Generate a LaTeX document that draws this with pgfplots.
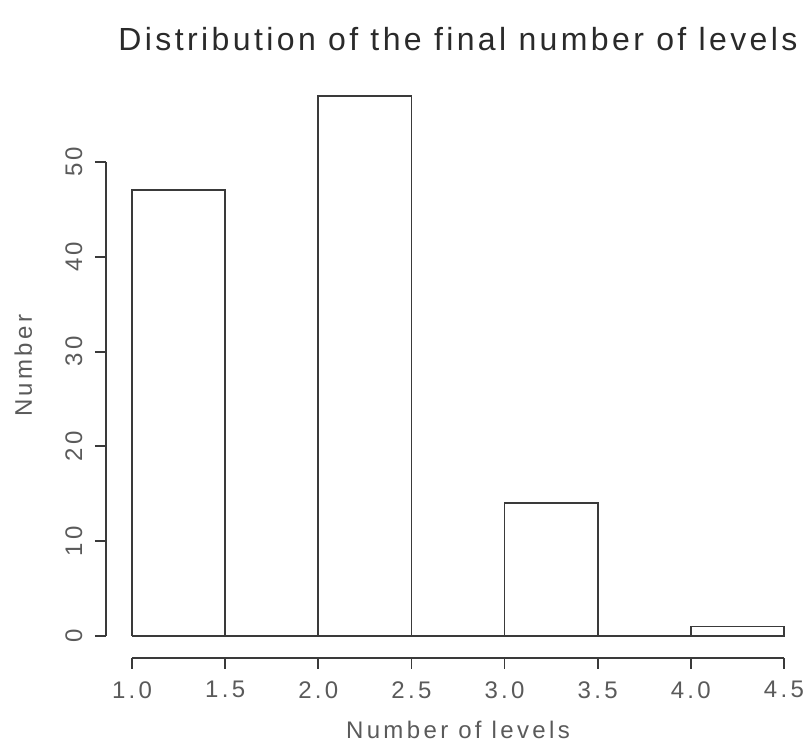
\documentclass[border=0pt]{standalone}
\usepackage{pgfplots}
\pgfplotsset{compat=1.18}
\usepackage{fontspec}
\setmainfont{Liberation Sans}[LetterSpace=14]
\newfontfamily\titlefont{Liberation Sans}[LetterSpace=10.6]
\definecolor{axc}{HTML}{3A3A3A}
\definecolor{txc}{HTML}{5A5A5A}
\definecolor{ttc}{HTML}{2A2A2A}
\begin{document}
\begin{tikzpicture}
\path[use as bounding box] (0,0) rectangle (606pt,561.75pt);
\begin{axis}[
  at={(79.5pt,68.55pt)}, anchor=south west,
  width=528pt, height=437.7pt, scale only axis,
  xmin=0.86, xmax=4.64, ymin=-2.28, ymax=59.28,
  axis lines*=left, axis line style={draw=none},
  clip=false,
  xtick={1,1.5,2,2.5,3,3.5,4,4.5},
  xticklabels={1.0,1.5,2.0,2.5,3.0,3.5,4.0,4.5},
  ytick={0,10,20,30,40,50},
  tick align=outside, major tick length=8.25pt,
  tick style={axc, line width=1.4pt},
  /pgf/number format/assume math mode=true,
  xticklabel shift=6pt, yticklabel shift=6pt,
  xticklabel style={font=\fontsize{18}{18}\selectfont, text=txc},
  yticklabel style={font=\fontsize{18}{18}\selectfont, text=txc, rotate=90, anchor=south},
]
% histogram: bins [1,1.5),[1.5,2),...,[4,4.5]; counts 47,0,57,0,14,0,1
\addplot[const plot mark left, draw=axc, line width=1.4pt, line join=miter] coordinates {
  (1,0) (1,47) (1.5,0) (2,57) (2.5,0) (3,14) (3.5,0) (4,1) (4.5,1)
};
\addplot[axc, line width=1.4pt] coordinates {(1,0) (4.5,0) (4.5,1)};
\draw[axc, line width=1.4pt] (axis cs:0.86,0) -- (axis cs:0.86,50);
\draw[axc, line width=1.4pt] (axis cs:1,-2.28) -- (axis cs:4.5,-2.28);
\node[font=\fontsize{18}{18}\selectfont, text=txc] at ([yshift=-54pt]rel axis cs:0.5,0) {Number of levels};
\node[font=\fontsize{18}{18}\selectfont, text=txc, rotate=90] at ([xshift=-62pt]rel axis cs:0,0.5) {Number};
\node[font=\fontsize{24}{24}\titlefont, text=ttc] at ([yshift=26pt]rel axis cs:0.5,1) {Distribution of the final number of levels};
\end{axis}
\end{tikzpicture}
\end{document}
